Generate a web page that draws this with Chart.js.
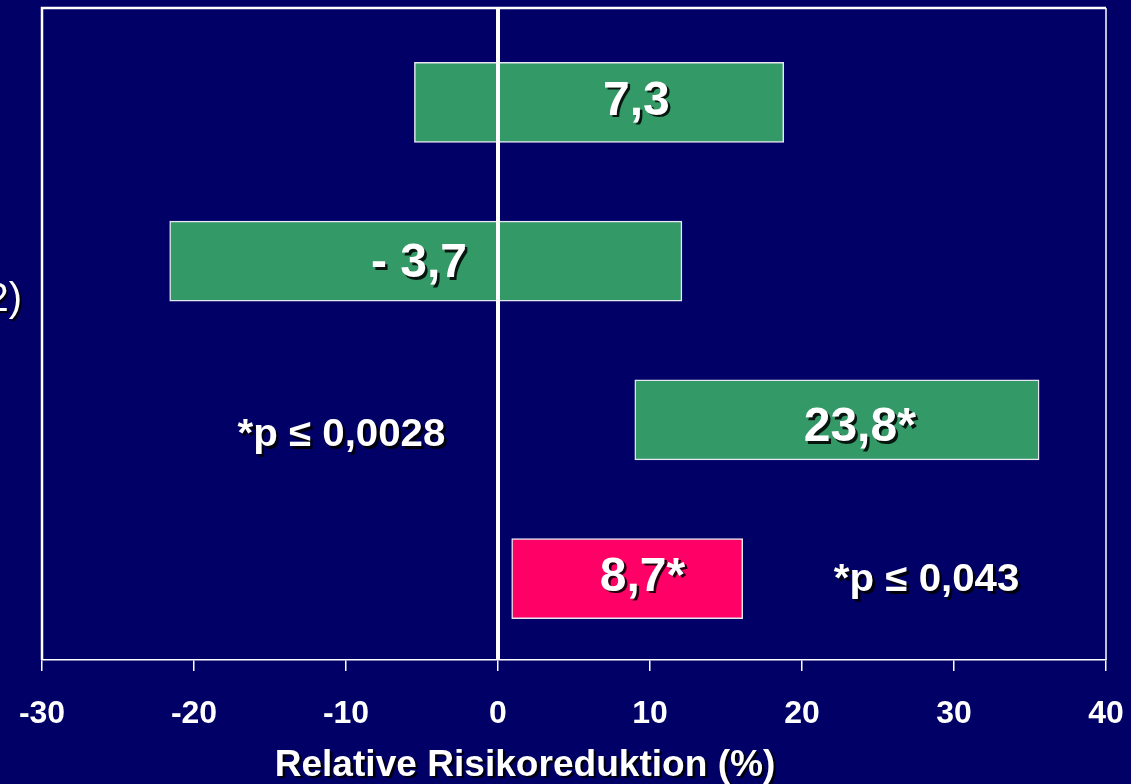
<!DOCTYPE html>
<html>
<head>
<meta charset="utf-8">
<style>
  html, body { margin: 0; padding: 0; background: #000066; overflow: hidden; }
  #wrap { width: 1131px; height: 784px; position: relative; }
</style>
<script src="https://cdn.jsdelivr.net/npm/chart.js@4/dist/chart.umd.min.js"></script>
</head>
<body>
<div id="wrap"><canvas id="c" width="1131" height="784"></canvas></div>
<script>
// Relative risk reduction (%) with confidence ranges, one row per study arm
const rows = [0, 1, 2, 3];
const lower = [-5.5, -21.6, 9.0, 0.9];
const upper = [18.8, 12.1, 35.6, 16.1];
const estimateLabels = ['7,3', '- 3,7', '23,8*', '8,7*'];
const barColors = ['#339966', '#339966', '#339966', '#ff0066'];
const xTicks = [-30, -20, -10, 0, 10, 20, 30, 40];
const pNotes = ['*p \u2264 0,0028', '*p \u2264 0,043'];
const pNoteRows = [2, 3];
const axisTitle = 'Relative Risikoreduktion (%)';
const sideText = '2)';

const FONT = "'Liberation Sans', Arial, Helvetica, sans-serif";

const bars = rows.map((r, i) => ({ x: [lower[i], upper[i]], y: r }));

// Frame, zero line and all free-standing texts
const decorations = {
  id: 'decorations',
  afterDatasetsDraw(chart, args, opts) {
    const { ctx, chartArea: a, scales: { x, y } } = chart;
    ctx.save();
    ctx.strokeStyle = '#ffffff';
    // left and top frame
    ctx.lineWidth = 2.5;
    ctx.beginPath();
    ctx.moveTo(a.left, a.bottom);
    ctx.lineTo(a.left, a.top);
    ctx.lineTo(a.right, a.top);
    ctx.stroke();
    // right frame
    ctx.lineWidth = 1.5;
    ctx.beginPath();
    ctx.moveTo(a.right, a.top);
    ctx.lineTo(a.right, a.bottom);
    ctx.stroke();
    // zero line
    const x0 = x.getPixelForValue(0);
    ctx.lineWidth = 4;
    ctx.beginPath();
    ctx.moveTo(x0, a.top);
    ctx.lineTo(x0, a.bottom);
    ctx.stroke();

    const shadowText = (txt, px, py, font, sx) => {
      ctx.save();
      ctx.font = font;
      ctx.textAlign = 'center';
      ctx.textBaseline = 'middle';
      ctx.translate(px, py);
      ctx.scale(sx || 1, 1);
      ctx.fillStyle = 'rgba(0,0,0,0.85)';
      ctx.fillText(txt, 2.5, 2.5);
      ctx.fillStyle = '#ffffff';
      ctx.fillText(txt, 0, 0);
      ctx.restore();
    };

    // estimate labels inside the bars
    estimateLabels.forEach((t, i) => {
      shadowText(t, x.getPixelForValue(opts.labelAt[i]),
        y.getPixelForValue(rows[i]) + opts.labelDy[i], 'bold 48px ' + FONT, 1);
    });
    // significance notes
    pNotes.forEach((t, i) => {
      shadowText(t, x.getPixelForValue(opts.noteAt[i]),
        y.getPixelForValue(pNoteRows[i]) + opts.noteDy[i], 'bold 38px ' + FONT, 1.06);
    });
    // axis title
    shadowText(axisTitle, opts.titleX, opts.titleY, 'bold 36px ' + FONT, 1.03);
    // clipped row caption at the left edge
    ctx.save();
    ctx.font = '40px ' + FONT;
    ctx.textAlign = 'right';
    ctx.textBaseline = 'middle';
    ctx.fillStyle = 'rgba(0,0,0,0.85)';
    ctx.fillText(sideText, 24, 302);
    ctx.fillStyle = '#ffffff';
    ctx.fillText(sideText, 22, 300);
    ctx.restore();
    ctx.restore();
  }
};

new Chart(document.getElementById('c'), {
  type: 'bar',
  data: {
    datasets: [{
      data: bars,
      backgroundColor: barColors,
      borderColor: '#e6e6f0',
      borderWidth: 1.5,
      borderSkipped: false,
      barThickness: 80
    }]
  },
  options: {
    indexAxis: 'y',
    responsive: false,
    animation: false,
    devicePixelRatio: 1,
    layout: { padding: { left: 42, right: 25, top: 8, bottom: 0 } },
    plugins: {
      legend: { display: false },
      tooltip: { enabled: false },
      decorations: {
        labelAt: [9.1, -5.2, 23.8, 9.5],
        labelDy: [-1, 3, 8, -1],
        noteAt: [-10.3, 28.2],
        noteDy: [16, 2],
        titleX: 525,
        titleY: 766
      }
    },
    scales: {
      x: {
        type: 'linear',
        min: -30,
        max: 40,
        afterBuildTicks(scale) { scale.ticks = xTicks.map(v => ({ value: v })); },
        afterFit(scale) {
          scale.height = 124;
          scale.paddingLeft = 0;
          scale.paddingRight = 0;
        },
        ticks: {
          color: '#ffffff',
          font: { family: FONT, size: 32, weight: 'bold' },
          padding: 24,
          callback: v => String(v)
        },
        grid: {
          drawOnChartArea: false,
          drawTicks: true,
          tickLength: 11,
          color: '#ffffff',
          lineWidth: 1.5
        },
        border: { display: true, color: '#ffffff', width: 1.5 }
      },
      y: {
        type: 'linear',
        reverse: true,
        offset: false,
        min: -0.594,
        max: 3.512,
        display: false
      }
    }
  },
  plugins: [decorations]
});
</script>
</body>
</html>
